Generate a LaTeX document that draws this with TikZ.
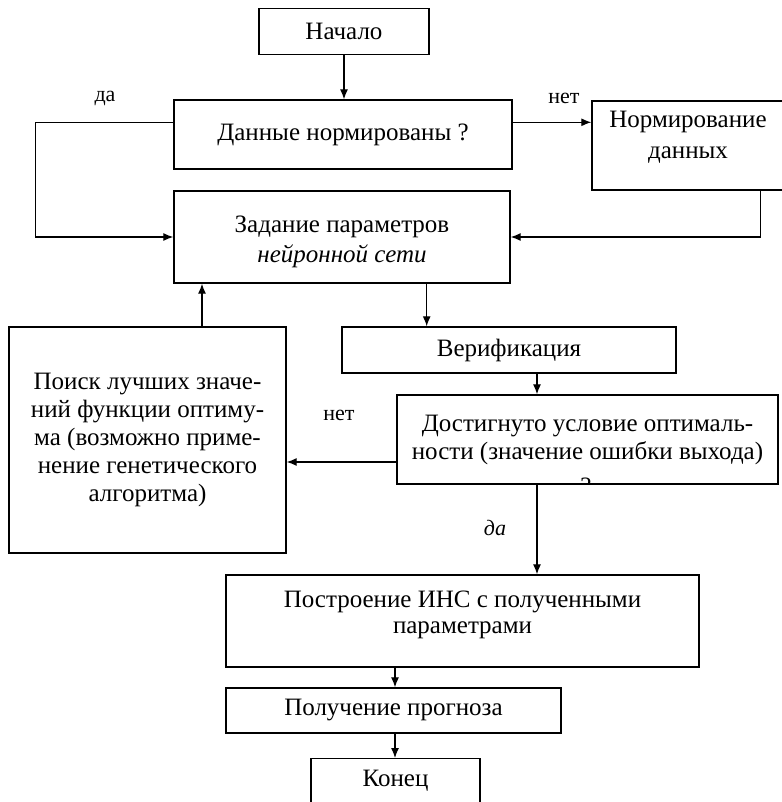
\documentclass[tikz,border=0pt]{standalone}
\usepackage{fontspec}
\setmainfont{Liberation Serif}
\usetikzlibrary{arrows.meta}

\tikzset{
  blok/.style={draw, line width=0.7pt, align=center, inner sep=2pt, font=\fontsize{12.5}{14}\selectfont},
  strelka/.style={-{Latex[length=5pt,width=4pt]}, line width=0.6pt},
  metka/.style={font=\fontsize{11}{13}\selectfont}
}

\begin{document}
\begin{tikzpicture}[x=0.5pt, y=-0.5pt]
            \useasboundingbox ( 0, 0 ) rectangle ( 781, 802 );
            % блоки
            \node [blok, minimum width=85pt, minimum height=23pt] (start) at ( 344, 31.5 ) {Начало};
            \node [blok, minimum width=169pt, minimum height=34.5pt] (dannye) at ( 343, 134.5 ) {Данные нормированы ?};
            \node [blok, minimum width=96pt, minimum height=44.5pt] (normir) at ( 688, 145.5 ) {Нормирование\\[1.5pt]данных\rule[-10.5pt]{0pt}{0pt}};
            \node [blok, minimum width=168pt, minimum height=46pt] (param) at ( 342, 237 ) {\rule{0pt}{13.5pt}Задание параметров\\[1pt]\textit{нейронной сети}};
            \node [blok, minimum width=138.5pt, minimum height=113pt] (search) at ( 147.5, 440 ) {Поиск лучших значе-\\ний функции оптиму-\\ма (возможно приме-\\нение генетического\\алгоритма)};
            \node [blok, minimum width=167pt, minimum height=23pt] (verif) at ( 509, 350 ) {Верификация};
            \node [blok, minimum width=190.5pt, minimum height=44.5pt] (optim) at ( 587.5, 439.5 ) {Достигнуто условие оптималь-\\ности (значение ошибки выхода)};
            \node [blok, minimum width=236.5pt, minimum height=46pt] (build) at ( 462.5, 621 ) {Построение ИНС с полученными\\[-1pt]параметрами\rule[-8.7pt]{0pt}{0pt}};
            \node [blok, minimum width=167.5pt, minimum height=22.5pt] (forecast) at ( 393.5, 710.5 ) {Получение прогноза};
            \node [blok, anchor=north, minimum width=84.5pt, inner ysep=6pt, text height=8pt, text depth=20pt] (finish) at ( 395.5, 758 ) {Конец};

            % обрезанный знак вопроса
            \begin{scope}
                \clip (optim.south west) rectangle (optim.north east);
                \node [blok, draw=none] (vopros) at ( 586, 486 ) {?};
            \end{scope}

            % оси вертикальных стрелок
            \coordinate (os1) at ( 202, 0 );
            \coordinate (os2) at ( 537, 0 );
            \coordinate (os3) at ( 395, 0 );

            % стрелки
            \draw [strelka] (start) -- (start |- dannye.north);
            \draw [strelka] (dannye.north west) ++ ( 0, 23 ) -- ++ ( -138, 0 ) |- (param.west);
            \draw [strelka] (dannye.north east) ++ ( 0, 23 ) coordinate (d1) -- (d1 -| normir.west);
            \draw [strelka] (normir.south east) ++ ( -24, 0 ) |- (param.east);
            \draw [strelka] (param.south east) ++ ( -84, 0 ) coordinate (p1) -- (p1 |- verif.north);
            \draw [strelka] (os1 |- search.north) -- (os1 |- param.south);
            \draw [strelka] (os2 |- verif.south) -- (os2 |- optim.north);
            \draw [strelka] (optim.west) ++ ( 0, 22.5 ) coordinate (o1) -- (o1 -| search.east);
            \draw [strelka] (os2 |- optim.south) -- (os2 |- build.north);
            \draw [strelka] (os3 |- build.south) -- (os3 |- forecast.north);
            \draw [strelka] (os3 |- forecast.south) -- (os3 |- finish.north);

            % подписи
            \node [metka] (da1) at ( 105, 98 ) {да};
            \node [metka] (net1) at ( 564, 98 ) {нет};
            \node [metka] (net2) at ( 339, 415 ) {нет};
            \node [metka, font=\fontsize{11}{13}\selectfont\itshape] (da2) at ( 495, 528 ) {да};
\end{tikzpicture}
\end{document}
